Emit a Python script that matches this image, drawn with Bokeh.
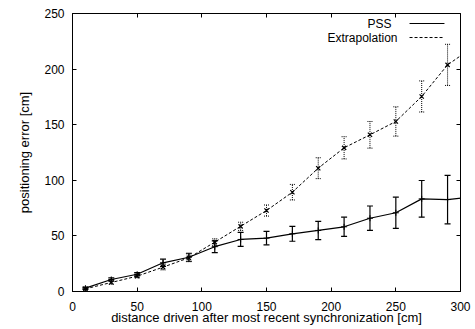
from bokeh.plotting import figure
from bokeh.models import (ColumnDataSource, Range1d, LinearAxis, FixedTicker,
                          Whisker, TeeHead, Label, Arrow)
from bokeh.embed import file_html
from bokeh.resources import INLINE

# ---- data ----
dist = [10, 30, 50, 70, 90, 110, 130, 150, 170, 190, 210, 230, 250, 270, 290]
pss = [3.0, 10.8, 15.5, 25.8, 30.8, 40.3, 46.8, 48.0, 51.9, 54.9, 58.2, 65.9, 70.8, 83.3, 82.7]
pss_err = [1.0, 1.5, 1.5, 3.3, 3.6, 5.3, 6.3, 6.0, 6.7, 8.2, 8.6, 11.0, 14.0, 16.5, 21.8]
extra = [2.4, 8.1, 13.8, 21.9, 30.3, 44.4, 58.6, 72.8, 89.3, 110.9, 129.2, 140.9, 152.9, 175.4, 203.8]
extra_err = [0.8, 1.5, 1.5, 2.5, 3.5, 3.0, 3.7, 5.0, 7.0, 9.4, 10.0, 12.0, 13.2, 14.0, 18.5]
# next sample (beyond the visible range, line is clipped at 300)
dist_next = 310
pss_next = 85.0
extra_next = 220.0

x_ticks = [0, 50, 100, 150, 200, 250, 300]
y_ticks = [0, 50, 100, 150, 200, 250]

FONT = "Liberation Sans"
FS = "12px"
FS_LABEL = "13px"

p = figure(width=475, height=329, output_backend="svg", toolbar_location=None,
           x_range=Range1d(0, 300), y_range=Range1d(0, 250),
           min_border_left=72, min_border_right=15, min_border_top=13, min_border_bottom=38)
p.grid.visible = False
p.outline_line_color = "black"
p.outline_line_width = 1
p.background_fill_color = "white"
p.border_fill_color = "white"

for ax, ticks in ((p.xaxis[0], x_ticks), (p.yaxis[0], y_ticks)):
    ax.ticker = FixedTicker(ticks=ticks)
    ax.major_tick_in = 4
    ax.major_tick_out = 0
    ax.minor_tick_line_color = None
    ax.axis_line_color = "black"
    ax.major_tick_line_color = "black"
    ax.major_label_text_font = FONT
    ax.major_label_text_font_size = FS
    ax.major_label_text_color = "black"
    ax.axis_label_text_font = FONT
    ax.axis_label_text_font_size = FS_LABEL
    ax.axis_label_text_font_style = "normal"
    ax.axis_label_text_color = "black"

p.xaxis[0].axis_label = "distance driven after most recent synchronization [cm]"
p.yaxis[0].axis_label = "positioning error [cm]"
p.xaxis[0].major_label_standoff = 10
p.xaxis[0].axis_label_standoff = -4
p.yaxis[0].major_label_standoff = 8
p.yaxis[0].axis_label_standoff = 9

# mirror ticks (no labels)
for loc, ticks in (("right", y_ticks), ("above", x_ticks)):
    ax = LinearAxis(ticker=FixedTicker(ticks=ticks), major_tick_in=4, major_tick_out=0,
                    minor_tick_line_color=None, axis_line_color=None,
                    major_tick_line_color="black",
                    major_label_overrides={t: "" for t in ticks},
                    major_label_text_font_size="4px",
                    major_label_standoff=0)
    p.add_layout(ax, loc)

line_x = dist + [dist_next]

# Extrapolation
src_e = ColumnDataSource(dict(x=dist, y=extra,
                              lo=[v - e for v, e in zip(extra, extra_err)],
                              up=[v + e for v, e in zip(extra, extra_err)]))
p.line(line_x, extra + [extra_next], line_color="black", line_width=1, line_dash="3 2")
p.add_layout(Whisker(source=src_e, base="x", lower="lo", upper="up", dimension="height",
                     line_color="black", line_width=1, line_dash="1 1",
                     upper_head=TeeHead(size=5, line_color="black", line_width=1, line_dash="1 1"),
                     lower_head=TeeHead(size=5, line_color="black", line_width=1, line_dash="1 1")))
p.scatter("x", "y", source=src_e, marker="x", size=6, line_color="black", line_width=1.2)

# PSS
src_p = ColumnDataSource(dict(x=dist, y=pss,
                              lo=[v - e for v, e in zip(pss, pss_err)],
                              up=[v + e for v, e in zip(pss, pss_err)]))
p.line(line_x, pss + [pss_next], line_color="black", line_width=1.2)
p.add_layout(Whisker(source=src_p, base="x", lower="lo", upper="up", dimension="height",
                     line_color="black", line_width=1.2,
                     upper_head=TeeHead(size=6, line_color="black", line_width=1.2),
                     lower_head=TeeHead(size=6, line_color="black", line_width=1.2)))
p.scatter("x", "y", source=src_p, marker="cross", size=6, line_color="black", line_width=1)

# key (gnuplot style: text then sample line)
key_labels = ["PSS", "Extrapolation"]
key_text_x = [246.7, 251.3]
key_y = [241.0, 228.4]
key_dash = ["solid", "3 2"]
key_line_x0 = 260.6
key_line_x1 = 287.6
for lab, tx, ky, dash in zip(key_labels, key_text_x, key_y, key_dash):
    p.add_layout(Label(x=tx, y=ky, text=lab, text_align="right", text_baseline="middle",
                       text_font=FONT, text_font_size=FS, text_color="black"))
    p.add_layout(Arrow(x_start=key_line_x0, y_start=ky, x_end=key_line_x1, y_end=ky,
                       end=None, line_color="black", line_width=1, line_dash=dash))

open("out.html", "w").write(file_html(p, INLINE))
